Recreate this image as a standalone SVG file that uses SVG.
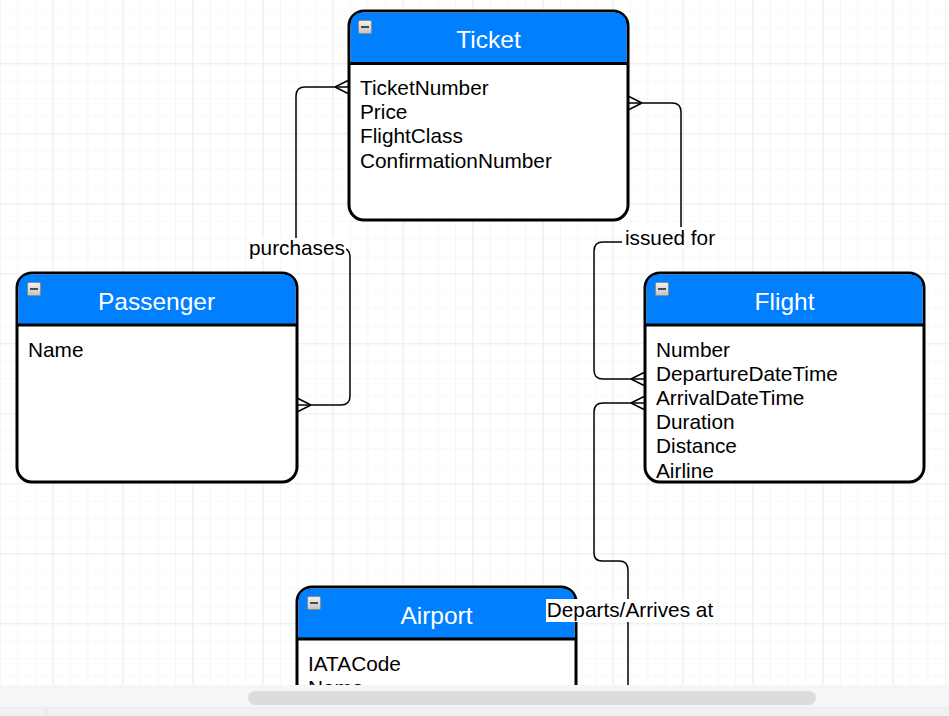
<svg xmlns="http://www.w3.org/2000/svg" width="949" height="716" viewBox="0 0 949 716">
<defs>
<pattern id="minor" patternUnits="userSpaceOnUse" x="0" y="10.8" width="17.5" height="17.5">
<path d="M0,0 V17.5 M0,0 H17.5" fill="none" stroke="#f1f1f1" stroke-width="1.2"/>
</pattern>
<pattern id="major" patternUnits="userSpaceOnUse" x="52.5" y="63.3" width="70" height="70">
<path d="M0,0 V70 M0,0 H70" fill="none" stroke="#e2e2e2" stroke-width="1.2"/>
</pattern>
<linearGradient id="ig" x1="0" y1="0" x2="0" y2="1">
<stop offset="0" stop-color="#f2f2f2"/>
<stop offset="1" stop-color="#c4c4c4"/>
</linearGradient>
<symbol id="icon" viewBox="0 0 14 14" width="14" height="14">
<rect x="0.5" y="0.5" width="13" height="13" rx="1.5" fill="url(#ig)" stroke="#8c8c8c" stroke-width="1"/>
<rect x="3" y="6" width="8" height="2" fill="#4a4a4a"/>
</symbol>
</defs>
<style>
.box{fill:#ffffff;stroke:#000;stroke-width:3}
.hdr{fill:#007FFF}
.div{stroke:#000;stroke-width:3}
.title{font-family:"Liberation Sans",Arial,sans-serif;font-size:24.5px;fill:#ffffff;text-anchor:middle}
.attr{font-family:"Liberation Sans",Arial,sans-serif;font-size:20.8px;fill:#000}
.lbl{font-family:"Liberation Sans",Arial,sans-serif;font-size:20.8px;fill:#000;text-anchor:middle}
.edge{fill:none;stroke:#000;stroke-width:1.5}
.lblbg{fill:#ffffff}
</style>
<rect width="949" height="716" fill="#ffffff"/>
<rect width="949" height="716" fill="url(#minor)"/>
<rect width="949" height="716" fill="url(#major)"/>

<g id="connectors">
<path class="edge" d="M349,87 H305 Q296,87 296,96 V248 H341 Q350,248 350,257 V396 Q350,405 341,405 H297"/>
<path class="edge" d="M335,87 L349,80 M335,87 L349,94"/>
<path class="edge" d="M311,405 L297,398 M311,405 L297,412"/>
<path class="edge" d="M628,103 H672 Q681,103 681,112 V242 H603 Q594,242 594,251 V370 Q594,379 603,379 H645"/>
<path class="edge" d="M642,103 L628,96 M642,103 L628,110"/>
<path class="edge" d="M631,379 L645,372 M631,379 L645,386"/>
<path class="edge" d="M645,403 H603 Q594,403 594,412 V553 Q594,561 602,561 H619 Q628,561 628,570 V716"/>
<path class="edge" d="M631,403 L645,396 M631,403 L645,410"/>
</g>

<g id="ticket">
<rect class="box" x="349" y="11" width="279" height="209" rx="15"/>
<path class="hdr" d="M350.5,63 V26 Q350.5,12.5 364,12.5 H613 Q626.5,12.5 626.5,26 V63 Z"/>
<line class="div" x1="349" y1="63.5" x2="628" y2="63.5"/>
<use href="#icon" x="358" y="20"/>
<text class="title" x="488.5" y="48">Ticket</text>
<text class="attr" x="360" y="95">TicketNumber</text>
<text class="attr" x="360" y="119.2">Price</text>
<text class="attr" x="360" y="143.4">FlightClass</text>
<text class="attr" x="360" y="167.6">ConfirmationNumber</text>
</g>

<g id="passenger">
<rect class="box" x="17" y="273" width="280" height="209" rx="15"/>
<path class="hdr" d="M18.5,325 V288 Q18.5,274.5 32,274.5 H282 Q295.5,274.5 295.5,288 V325 Z"/>
<line class="div" x1="17" y1="325" x2="297" y2="325"/>
<use href="#icon" x="27" y="282"/>
<text class="title" x="156.5" y="309.5">Passenger</text>
<text class="attr" x="28" y="356.5">Name</text>
</g>

<g id="flight">
<rect class="box" x="645" y="273" width="279" height="209" rx="15"/>
<path class="hdr" d="M646.5,325 V288 Q646.5,274.5 660,274.5 H909 Q922.5,274.5 922.5,288 V325 Z"/>
<line class="div" x1="645" y1="325" x2="924" y2="325"/>
<use href="#icon" x="655" y="282"/>
<text class="title" x="784.5" y="309.5">Flight</text>
<text class="attr" x="656" y="356.5">Number</text>
<text class="attr" x="656" y="380.7">DepartureDateTime</text>
<text class="attr" x="656" y="404.9">ArrivalDateTime</text>
<text class="attr" x="656" y="429.1">Duration</text>
<text class="attr" x="656" y="453.3">Distance</text>
<text class="attr" x="656" y="477.5">Airline</text>
</g>

<g id="airport">
<rect class="box" x="297" y="587" width="279" height="209" rx="15"/>
<path class="hdr" d="M298.5,639 V602 Q298.5,588.5 312,588.5 H561 Q574.5,588.5 574.5,602 V639 Z"/>
<line class="div" x1="297" y1="639" x2="576" y2="639"/>
<use href="#icon" x="307" y="596"/>
<text class="title" x="436.5" y="623.5">Airport</text>
<text class="attr" x="308" y="670.5">IATACode</text>
<text class="attr" x="308" y="694.7">Name</text>
</g>

<g id="labels">
<rect class="lblbg" x="248" y="238" width="98" height="20"/>
<text class="lbl" x="297" y="255">purchases</text>
<rect class="lblbg" x="622" y="227" width="96" height="21"/>
<text class="lbl" x="670" y="245">issued for</text>
<rect class="lblbg" x="546" y="599" width="168" height="23"/>
<text class="lbl" x="630" y="617.3">Departs/Arrives at</text>
</g>

<g id="scrollbar">
<rect x="0" y="685" width="949" height="31" fill="#f5f6f8"/>
<rect x="248" y="691" width="568" height="14" rx="7" fill="#dcdcdc"/>
<rect x="0" y="707.5" width="949" height="1" fill="#e3e4e6"/>
<rect x="0" y="708.5" width="949" height="7.5" fill="#f0f1f3"/>
<rect x="46" y="709" width="1" height="7" fill="#dedfe1"/>
</g>
</svg>
